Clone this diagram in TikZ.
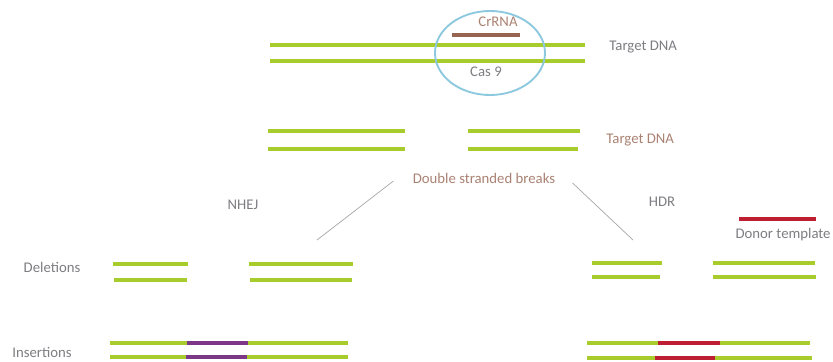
\documentclass[tikz,border=0pt]{standalone}
\usepackage{fontspec}
\setmainfont{Carlito}
\usetikzlibrary{positioning}
\definecolor{dnagreen}{RGB}{168,204,44}
\definecolor{rnabrown}{RGB}{150,100,80}
\definecolor{ringblue}{RGB}{140,200,222}
\definecolor{insviolet}{RGB}{125,55,135}
\definecolor{donorred}{RGB}{190,30,50}
\definecolor{labelgray}{RGB}{125,125,130}
\definecolor{labelbrown}{RGB}{170,130,115}

\begin{document}
\begin{tikzpicture}[x=0.03cm, y=-0.03cm]
        \def\strandw{2.6}
        \tikzset{
            strand/.style = {line width = \strandw pt, dnagreen},
            label/.style = {text = labelgray, font = \fontsize{12.6}{14}\selectfont, inner sep = 1pt},
            branch/.style = {draw = gray!70, line width = 0.6pt}
        }
        \useasboundingbox (0,0) rectangle (833,362);

        % target DNA with Cas 9
        \draw[strand] (270,45) -- (585,45);
        \draw[strand] (270,61) -- (585,61);
        \draw[line width = \strandw pt, rnabrown] (452,35) -- (520,35);
        \draw[ringblue, line width = 1.6pt] (490,53) ellipse [x radius = 55, y radius = 42];
        \node(crrna) [label, text = rnabrown!80] at (498,22) {CrRNA};
        \node(cas) [label] at (486,72) {Cas 9};
        \node(dna1) [label, anchor = west] at (608,47) {Target DNA};

        % cut DNA
        \draw[strand] (268,131) -- (405,131);
        \draw[strand] (268,149) -- (405,149);
        \draw[strand] (468,131) -- (580,131);
        \draw[strand] (468,149) -- (578,149);
        \node(dna2) [label, text = labelbrown, anchor = west] at (605,140) {Target DNA};
        \node(dsb) [label, text = labelbrown] at (484,178) {Double stranded breaks};

        % repair pathways
        \node(nhej) [label] at (243,205) {NHEJ};
        \node(hdr) [label] at (662,202) {HDR};
        \coordinate(nhejend) at (317,240);
        \coordinate(hdrend) at (633,240);
        \draw[branch] (dsb.west) ++(-18,3) coordinate(dsbl) -- (nhejend);
        \draw[branch] (dsb.east) ++(16,5) coordinate(dsbr) -- (hdrend);

        % donor template
        \draw[line width = \strandw pt, donorred] (739,219) -- (816,219);
        \node(donor) [label, anchor = east] at (832,235) {Donor template};

        % deletions
        \node(del) [label] at (52,267) {Deletions};
        \draw[strand] (113,264) -- (188,264);
        \draw[strand] (114,280) -- (187,280);
        \draw[strand] (249,264) -- (353,264);
        \draw[strand] (250,280) -- (352,280);
        \draw[strand] (592,263) -- (662,263);
        \draw[strand] (592,277) -- (660,277);
        \draw[strand] (713,263) -- (815,263);
        \draw[strand] (713,277) -- (816,277);

        % insertions
        \node(ins) [label] at (42,352) {Insertions};
        \foreach \y/\a/\b in {343/187/248, 357/186/247} {
            \draw[strand] (110,\y) -- (\a,\y);
            \draw[line width = \strandw pt, insviolet] (\a,\y) -- (\b,\y);
            \draw[strand] (\b,\y) -- (348,\y);
        }
        \foreach \y/\a/\b/\e in {343/658/720/810, 358/655/715/812} {
            \draw[strand] (587,\y) -- (\a,\y);
            \draw[line width = \strandw pt, donorred] (\a,\y) -- (\b,\y);
            \draw[strand] (\b,\y) -- (\e,\y);
        }
    \end{tikzpicture}
\end{document}
